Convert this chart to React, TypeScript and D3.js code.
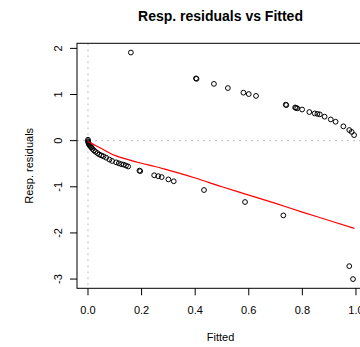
import * as d3 from 'd3'

const fitted = [
  0.0, 0.0, 0.001, 0.002, 0.003, 0.005, 0.007, 0.01, 0.013, 0.017, 0.022, 0.028, 0.035, 0.042,
  0.05, 0.058, 0.068, 0.08, 0.09, 0.105, 0.115, 0.124, 0.133, 0.142, 0.15, 0.192, 0.195, 0.247,
  0.262, 0.275, 0.3, 0.32,
  0.433, 0.586, 0.729, 0.975, 0.989,
  0.16, 0.403, 0.405, 0.47, 0.522, 0.58, 0.6, 0.627, 0.738, 0.74, 0.773, 0.776, 0.781, 0.799,
  0.826, 0.846, 0.856, 0.865, 0.883, 0.906, 0.924, 0.953, 0.975, 0.984, 0.993,
]
const residuals = [
  0.02, -0.01, -0.03, -0.05, -0.07, -0.09, -0.11, -0.13, -0.15, -0.18, -0.21, -0.24, -0.27, -0.3,
  -0.32, -0.34, -0.37, -0.41, -0.44, -0.47, -0.49, -0.51, -0.52, -0.54, -0.56, -0.65, -0.66, -0.75,
  -0.77, -0.79, -0.84, -0.88,
  -1.07, -1.33, -1.62, -2.72, -3.0,
  1.91, 1.35, 1.34, 1.23, 1.14, 1.04, 1.01, 0.97, 0.78, 0.77, 0.72, 0.71, 0.7, 0.675,
  0.62, 0.59, 0.58, 0.57, 0.52, 0.46, 0.41, 0.31, 0.23, 0.19, 0.12,
]

// lowess smooth
const smoothX = [0, 0.02, 0.05, 0.1, 0.15, 0.2, 0.25, 0.3, 0.343, 0.4, 0.5, 0.6, 0.7, 0.8, 0.9, 0.994]
const smoothY = [-0.02, -0.08, -0.17, -0.32, -0.41, -0.49, -0.56, -0.64, -0.71, -0.81, -1.0, -1.18, -1.36, -1.55, -1.73, -1.9]

const xTicks = [0, 0.2, 0.4, 0.6, 0.8, 1.0]
const yTicks = [-3, -2, -1, 0, 1, 2]

const W = 360
const H = 347
const box = { left: 77, top: 43.3, right: 364, bottom: 288.3 }
const font = '"Liberation Sans", Arial, Helvetica, sans-serif'

export default function App() {
  const x = d3.scaleLinear().domain([-0.041, 1.03]).range([box.left, box.right])
  const y = d3.scaleLinear().domain([-3.2, 2.11]).range([box.bottom, box.top])

  const line = d3.line<number>()
    .x((d) => x(d))
    .y((_, i) => y(smoothY[i]))
    .curve(d3.curveMonotoneX)

  const cx = (box.left + box.right) / 2
  const cy = (box.top + box.bottom) / 2

  return (
    <svg width={W} height={H} style={{ position: 'absolute', left: 0, top: 0, background: '#fff' }} fontFamily={font}>
      <rect width={W} height={H} fill="#fff" />
      <text x={cx} y={20.5} textAnchor="middle" fontSize={14} fontWeight="bold">
        Resp. residuals vs Fitted
      </text>

      {/* reference lines */}
      <line x1={box.left} x2={box.right} y1={y(0)} y2={y(0)} stroke="#bdbdbd" strokeDasharray="2,4" />
      <line x1={x(0)} x2={x(0)} y1={box.top} y2={box.bottom} stroke="#bdbdbd" strokeDasharray="2,4" />

      {fitted.map((f, i) => (
        <circle key={i} cx={x(f)} cy={y(residuals[i])} r={2.4} fill="none" stroke="#000" strokeWidth={1} />
      ))}

      <path d={line(smoothX) || ''} fill="none" stroke="#ff0000" strokeWidth={1.2} />

      <rect x={box.left} y={box.top} width={box.right - box.left} height={box.bottom - box.top} fill="none" stroke="#000" strokeWidth={1} />

      {/* x axis */}
      {xTicks.map((t) => (
        <g key={t}>
          <line x1={x(t)} x2={x(t)} y1={box.bottom} y2={box.bottom + 7} stroke="#000" />
          <text x={x(t)} y={314.3} textAnchor="middle" fontSize={11}>{t.toFixed(1)}</text>
        </g>
      ))}
      <text x={cx} y={341} textAnchor="middle" fontSize={11}>Fitted</text>

      {/* y axis */}
      {yTicks.map((t) => (
        <g key={t}>
          <line x1={box.left - 7} x2={box.left} y1={y(t)} y2={y(t)} stroke="#000" />
          <text transform={`translate(61.5,${y(t)}) rotate(-90)`} textAnchor="middle" fontSize={11}>{t}</text>
        </g>
      ))}
      <text transform={`translate(33,${cy}) rotate(-90)`} textAnchor="middle" fontSize={11}>Resp. residuals</text>
    </svg>
  )
}
